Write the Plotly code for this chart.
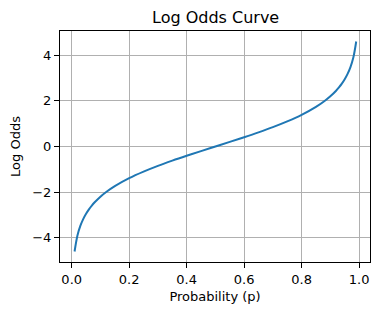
import plotly.graph_objects as go

# Probability values and the log odds
prob = [0.01, 0.02, 0.03, 0.04, 0.05, 0.06, 0.07, 0.08, 0.10, 0.12, 0.15, 0.20, 0.25, 0.30,
        0.35, 0.40, 0.45, 0.50, 0.55, 0.60, 0.65, 0.70, 0.75, 0.80, 0.85, 0.88, 0.90,
        0.92, 0.93, 0.94, 0.95, 0.96, 0.97, 0.98, 0.99]
log_odds = [-4.595, -3.892, -3.476, -3.178, -2.944, -2.752, -2.587, -2.442, -2.197, -1.992,
            -1.735, -1.386, -1.099, -0.847, -0.619, -0.405, -0.201, 0.0, 0.201, 0.405,
            0.619, 0.847, 1.099, 1.386, 1.735, 1.992, 2.197, 2.442, 2.587, 2.752, 2.944,
            3.178, 3.476, 3.892, 4.595]

x_ticks = [0.0, 0.2, 0.4, 0.6, 0.8, 1.0]
y_ticks = [-4, -2, 0, 2, 4]

font = "DejaVu Sans"

fig = go.Figure()
fig.add_trace(go.Scatter(x=prob, y=log_odds, mode="lines", line_shape="spline",
                         line=dict(color="#1f77b4", width=2)))

axis_common = dict(showgrid=True, gridcolor="#b0b0b0", gridwidth=1, zeroline=False,
                   showline=True, linecolor="black", linewidth=1, mirror=True,
                   ticks="outside", ticklen=5, tickwidth=1, tickcolor="black",
                   tickfont=dict(family=font, size=13, color="black"))

fig.update_layout(
    width=379, height=314,
    margin=dict(l=60, r=9, t=31, b=52),
    paper_bgcolor="white", plot_bgcolor="white",
    showlegend=False,
    xaxis=dict(range=[-0.0407, 1.038], tickvals=x_ticks, tickformat=".1f",
               title=dict(text="Probability (p)", font=dict(family=font, size=13, color="black"), standoff=6),
               **axis_common),
    yaxis=dict(range=[-5.054, 5.054], tickvals=y_ticks,
               title=dict(text="Log Odds", font=dict(family=font, size=13, color="black"), standoff=8),
               **axis_common),
    annotations=[dict(text="Log Odds Curve", x=0.5, y=17, xref="paper", yref="paper",
                      showarrow=False, font=dict(family=font, size=16, color="black"))],
)
# place title in pixel terms via yref paper conversion
plot_h = 314 - 31 - 52
fig.layout.annotations[0].y = 1 + (31 - 17) / plot_h
fig.layout.annotations[0].yanchor = "middle"
fig.layout.annotations[0].x = (60 + 310 / 2 - 60) / 310

fig.write_html("out.html")
